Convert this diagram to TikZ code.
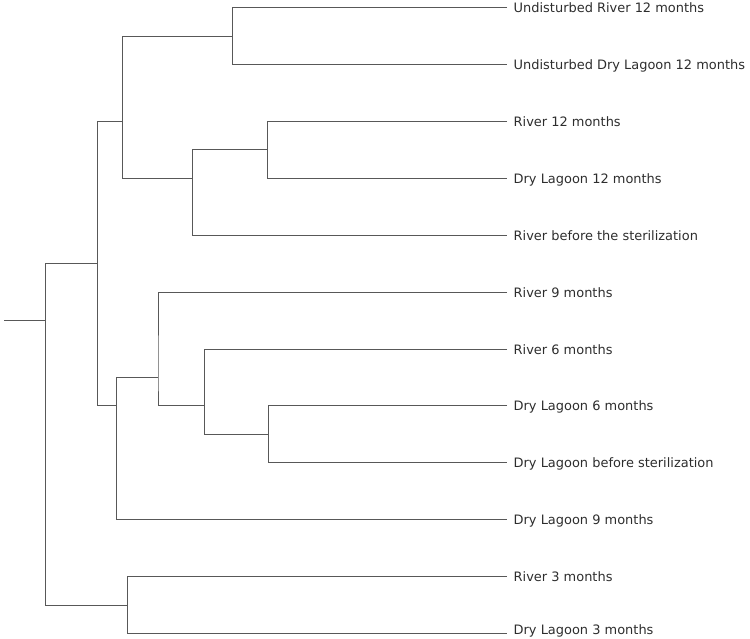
\documentclass[tikz,border=0pt]{standalone}
\usepackage{fontspec}
\setmainfont{DejaVu Sans}
\definecolor{linec}{RGB}{88,88,88}
\definecolor{textc}{RGB}{45,45,45}
\begin{document}
\begin{tikzpicture}[x=1pt,y=-1pt,
  br/.style={draw=linec, line width=0.9pt},
  lab/.style={anchor=west, inner xsep=6.5pt, inner ysep=0pt, text height=10pt, text depth=0pt,
    font=\fontsize{12.95}{14}\selectfont, text=textc}]
\useasboundingbox (0,0) rectangle (750,639);
% leaves
\node[lab] (l1)  at (507,7.5)   {Undisturbed River 12 months};
\node[lab] (l2)  at (507,64.4)  {Undisturbed Dry Lagoon 12 months};
\node[lab] (l3)  at (507,121.3) {River 12 months};
\node[lab] (l4)  at (507,178.2) {Dry Lagoon 12 months};
\node[lab] (l5)  at (507,235.1) {River before the sterilization};
\node[lab] (l6)  at (507,292.1) {River 9 months};
\node[lab] (l7)  at (507,349.0) {River 6 months};
\node[lab] (l8)  at (507,405.9) {Dry Lagoon 6 months};
\node[lab] (l9)  at (507,462.8) {Dry Lagoon before sterilization};
\node[lab] (l10) at (507,519.7) {Dry Lagoon 9 months};
\node[lab] (l11) at (507,576.6) {River 3 months};
\node[lab, text height=7pt, text depth=6pt] (l12) at (507,633.5) {Dry Lagoon 3 months};
% internal nodes
\coordinate (A) at (232.3,36.0);
\coordinate (B) at (267.7,149.8);
\coordinate (C) at (192.3,178.2);
\coordinate (D) at (122.3,121.3);
\coordinate (J) at (268.3,434.4);
\coordinate (I) at (204.7,405.9);
\coordinate (H) at (158.0,377.5);
\coordinate (G) at (116.7,405.9);
\coordinate (E) at (97.3,263.6);
\coordinate (K) at (127.7,605.1);
\coordinate (F) at (45.7,320.5);
\coordinate (R) at (4,320.5);
% connectors
\draw[br] (l1.west) -| (A) |- (l2.west);
\draw[br] (l3.west) -| (B) |- (l4.west);
\draw[br] (B) -| (C) |- (l5.west);
\draw[br] (A) -| (D) |- (C);
\draw[br] (l8.west) -| (J) |- (l9.west);
\draw[br] (l7.west) -| (I) |- (J);
\draw[br] (l6.west) -| (H) |- (I);
\draw[br] (H) -| (G) |- (l10.west);
\draw[br] (D) -| (E) |- (G);
\draw[br] (l11.west) -| (K) |- (l12.west);
\draw[br] (E) -| (F) |- (K);
\draw[br] (R) -- (F);
\end{tikzpicture}
\end{document}
